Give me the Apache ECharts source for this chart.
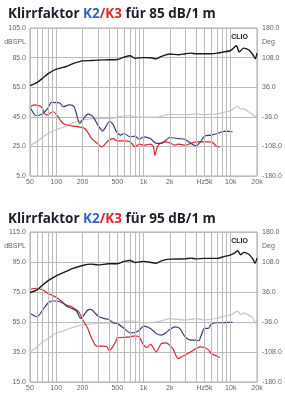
<!DOCTYPE html>
<html>
<head>
<meta charset="utf-8">
<script src="https://cdn.jsdelivr.net/npm/echarts@6/dist/echarts.min.js"></script>
<style>
html, body { margin: 0; padding: 0; background: #fff; }
#chart { width: 285px; height: 400px; }
</style>
</head>
<body>
<div id="chart"></div>
<script>
// --- 85 dB/1 m ---
var fSpl85 = [50, 60, 70, 80, 100, 130, 150, 200, 250, 300, 400, 500, 600, 700, 800, 1000, 1200, 1400, 1600, 2000, 2500, 3000, 3500, 4000, 5000, 6000, 7000, 8000, 10000, 11600, 12500, 14000, 16000, 18000, 19100, 20000];
var spl85 = [66.1, 68.1, 71.1, 74, 77.2, 79, 80.6, 82.8, 83, 83.3, 83.5, 83.7, 85.3, 86.2, 84.6, 85, 84.9, 84.2, 85.8, 87.4, 86.9, 87.6, 88, 87.6, 87.6, 87.6, 88, 88.7, 89.8, 93, 88.7, 91.4, 90.3, 86.9, 84.2, 88];
var fK2_85 = [50, 59, 70, 80, 88, 100, 110, 120, 140, 160, 186, 200, 232, 265, 300, 340, 410, 450, 490, 550, 600, 700, 800, 900, 1000, 1200, 1400, 1600, 1800, 2000, 2500, 3000, 3500, 4000, 4500, 5000, 6000, 7000, 8000, 9000, 10500];
var k2_85 = [51.8, 45.7, 47.3, 50.7, 54.8, 54.6, 54.3, 51.8, 53, 51.8, 40.5, 43, 46.8, 45, 39.4, 35.5, 42, 39.5, 35, 32.6, 33.7, 31.5, 31.9, 29.7, 31.5, 30.3, 27, 27, 29.2, 31, 30.3, 29.7, 27, 25.4, 28.1, 31.9, 32.6, 33.7, 34.9, 35.3, 34.9];
var fK3_85 = [50, 56, 67, 77, 92, 120, 150, 180, 213, 255, 290, 330, 400, 450, 500, 600, 700, 800, 900, 1000, 1200, 1300, 1350, 1450, 1600, 1800, 2000, 2300, 2500, 3000, 3500, 4000, 5000, 6000, 6500, 7000, 7500];
var k3_85 = [51.8, 53, 51.8, 46.1, 48.4, 40.5, 38.9, 38.2, 37.1, 30.3, 27.4, 24.6, 29.2, 30.3, 28.7, 28.7, 28.1, 24.7, 26.5, 25.8, 26.5, 24.7, 19, 25, 27.4, 28.1, 27.4, 25.8, 26.5, 25.8, 27, 28.1, 28.1, 28.1, 26.5, 24.7, 24.7];
var fPh85 = [50, 60, 70, 80, 100, 130, 150, 200, 250, 300, 400, 500, 600, 700, 800, 1000, 1500, 2000, 3000, 4000, 5000, 6000, 7000, 8000, 10000, 12000, 13000, 14000, 16000, 18000, 19000, 20000];
var ph85 = [-105, -97, -85, -77, -67, -59, -52, -44, -41, -40, -40, -37, -34, -33, -36, -37, -36, -30, -31, -29, -31, -30, -29, -26, -21, -10, -18, -16, -24, -31, -37, -31];

// --- 95 dB/1 m ---
var fSpl95 = [50, 60, 70, 80, 100, 130, 150, 200, 250, 300, 400, 500, 600, 700, 800, 1000, 1400, 1600, 2000, 3000, 3500, 4000, 5000, 7000, 8000, 10000, 11000, 12000, 13000, 14000, 16000, 18000, 19000, 20000];
var spl95 = [74.6, 76.4, 79.7, 82.4, 85.8, 88.7, 90.4, 92.7, 93.6, 93.1, 93.8, 93.8, 95.4, 96, 94.7, 95.4, 94.2, 95.8, 96.9, 97.1, 97.6, 97.1, 97.4, 97.4, 98.3, 99.8, 100.9, 102.5, 99.8, 101.4, 100.3, 96.9, 94.2, 97.6];
var fK2_95 = [50, 60, 70, 80, 90, 100, 120, 130, 150, 170, 190, 200, 230, 250, 280, 300, 350, 400, 450, 500, 600, 700, 800, 900, 1000, 1200, 1400, 1600, 1800, 2000, 2300, 2600, 3000, 3500, 4000, 4300, 4600, 5000, 5500, 6000, 7000, 8000, 9000, 10500];
var k2_95 = [60.8, 58.5, 63, 67.5, 69, 69, 67.5, 65.7, 64.1, 62.5, 57.4, 58.5, 63, 63.4, 60.8, 59, 57.4, 56.7, 54.5, 54.1, 50.7, 47.8, 48, 49.6, 52.3, 50.7, 47.4, 46.3, 47.8, 50, 51.8, 50.7, 45.1, 42.9, 42.9, 42.5, 46.3, 50.7, 50.7, 53.6, 54.5, 54.5, 54.7, 54.7];
var fK3_95 = [50, 60, 70, 80, 100, 130, 150, 180, 200, 230, 250, 280, 300, 350, 380, 400, 430, 480, 500, 600, 700, 800, 900, 1000, 1100, 1200, 1400, 1600, 1800, 2000, 2200, 2500, 2800, 3000, 3500, 4000, 4500, 5000, 5500, 6000, 7000, 7500];
var k3_95 = [76.8, 77.5, 76.4, 74.2, 71.5, 66.3, 65.2, 61.9, 56.7, 50.7, 45.1, 39.6, 38.9, 38.9, 38.4, 36.2, 37.3, 41.8, 44.5, 44.7, 45.1, 45.8, 44.7, 39.6, 38, 40.2, 35.1, 40.7, 41.1, 39.6, 36.6, 30.6, 32.2, 32.9, 35.1, 37.3, 38.4, 38, 36.6, 33.9, 32.2, 31.3];
var fPh95 = [50, 60, 70, 80, 100, 130, 150, 200, 250, 300, 400, 500, 600, 700, 800, 1000, 1500, 2000, 3000, 4000, 5000, 7000, 8000, 10000, 12000, 13000, 14000, 16000, 18000, 19000, 20000];
var ph95 = [-108, -96, -84, -76, -63, -55, -50, -43, -41, -39, -39, -38, -35, -33, -35, -38, -35, -28, -31, -28, -31, -27, -23, -19, -10, -19, -14, -19, -27, -39, -30];

// x grid and labels
var gridFreqs = [50, 60, 70, 80, 90, 100, 200, 300, 400, 500, 600, 700, 800, 900, 1000, 2000, 3000, 4000, 5000, 6000, 7000, 8000, 9000, 10000, 20000];
var freqLabels = { 50: '50', 100: '100', 200: '200', 500: '500', 1000: '1k', 2000: '2k', 5000: 'Hz5k', 10000: '10k', 20000: '20k' };

var gridColor = '#bcbcbc';
var labelColor = '#666';

function pairs(f, v) {
    return f.map(function (x, i) { return [x, v[i]]; });
}

function curve(f, v, color, width, xi, yi, z) {
    return {
        type: 'line', xAxisIndex: xi, yAxisIndex: yi, data: pairs(f, v),
        symbol: 'none', smooth: 0.25, silent: true, z: z,
        lineStyle: { color: color, width: width }
    };
}

function vGrid(xi, yi) {
    return {
        type: 'line', xAxisIndex: xi, yAxisIndex: yi, data: [], z: 1, silent: true,
        markLine: {
            silent: true, symbol: 'none', animation: false,
            lineStyle: { color: gridColor, width: 1, type: 'solid' },
            data: gridFreqs.map(function (f) {
                var lab = freqLabels[f];
                return {
                    xAxis: f,
                    label: lab ? { show: true, position: 'start', formatter: lab, color: labelColor, fontSize: 7, distance: 3 } : { show: false }
                };
            })
        }
    };
}

function xAx(gi) {
    return {
        type: 'log', logBase: 10, gridIndex: gi, min: 50, max: 20000,
        axisLine: { show: false }, axisTick: { show: false },
        axisLabel: { show: false }, splitLine: { show: false }
    };
}

function yLeft(gi, min, max) {
    return {
        type: 'value', gridIndex: gi, min: min, max: max, interval: 20, position: 'left',
        name: 'dBSPL', nameLocation: 'end', nameGap: -11,
        nameTextStyle: { fontSize: 7, color: labelColor, align: 'right', verticalAlign: 'top', padding: [0, 4, 0, 0] },
        axisLine: { show: false }, axisTick: { show: false },
        axisLabel: { fontSize: 7, color: labelColor, margin: 4, formatter: function (v) { return v.toFixed(1); } },
        splitLine: { lineStyle: { color: gridColor, width: 1 } }
    };
}

function yRight(gi) {
    return {
        type: 'value', gridIndex: gi, min: -180, max: 180, interval: 72, position: 'right',
        name: 'Deg', nameLocation: 'end', nameGap: -11,
        nameTextStyle: { fontSize: 7, color: labelColor, align: 'left', verticalAlign: 'top', padding: [0, 0, 0, 5] },
        axisLine: { show: false }, axisTick: { show: false },
        axisLabel: { fontSize: 7, color: labelColor, margin: 5, formatter: function (v) { return v.toFixed(1); } },
        splitLine: { show: false }
    };
}

var rich = {
    a: { fontFamily: 'Open Sans', fontWeight: 'bold', fontSize: 13.5, color: '#1e1e2a' },
    b: { fontFamily: 'Open Sans', fontWeight: 'bold', fontSize: 13.5, color: '#2b68c4' },
    c: { fontFamily: 'Open Sans', fontWeight: 'bold', fontSize: 13.5, color: '#e2242b' }
};

var chart = echarts.init(document.getElementById('chart'));
chart.setOption({
    animation: false,
    backgroundColor: '#fff',
    textStyle: { fontFamily: 'Liberation Sans' },
    title: [
        { text: '{a|Klirrfaktor }{b|K2}{c|/K3}{a| für 85 dB/1 m}', left: 3, top: 2, textStyle: { rich: rich } },
        { text: '{a|Klirrfaktor }{b|K2}{c|/K3}{a| für 95 dB/1 m}', left: 3, top: 207, textStyle: { rich: rich } },
        { text: 'CLIO', right: 32, top: 29, textStyle: { fontSize: 7, fontWeight: 'bold', color: '#222' } },
        { text: 'CLIO', right: 32, top: 233, textStyle: { fontSize: 7, fontWeight: 'bold', color: '#222' } }
    ],
    grid: [
        { left: 30, right: 28, top: 28, height: 148, show: true, borderColor: '#aaa', borderWidth: 1, backgroundColor: 'transparent' },
        { left: 30, right: 28, top: 232, height: 150, show: true, borderColor: '#aaa', borderWidth: 1, backgroundColor: 'transparent' }
    ],
    xAxis: [xAx(0), xAx(1)],
    yAxis: [yLeft(0, 5, 105), yRight(0), yLeft(1, 15, 115), yRight(1)],
    series: [
        vGrid(0, 0),
        curve(fPh85, ph85, '#c6c6c6', 1.2, 0, 1, 2),
        curve(fK3_85, k3_85, '#d62832', 1.2, 0, 0, 3),
        curve(fK2_85, k2_85, '#3a3d72', 1.2, 0, 0, 4),
        curve(fSpl85, spl85, '#1a1a1a', 1.4, 0, 0, 5),
        vGrid(1, 2),
        curve(fPh95, ph95, '#c6c6c6', 1.2, 1, 3, 2),
        curve(fK3_95, k3_95, '#d62832', 1.2, 1, 2, 3),
        curve(fK2_95, k2_95, '#3a3d72', 1.2, 1, 2, 4),
        curve(fSpl95, spl95, '#1a1a1a', 1.4, 1, 2, 5)
    ]
});
</script>
</body>
</html>
